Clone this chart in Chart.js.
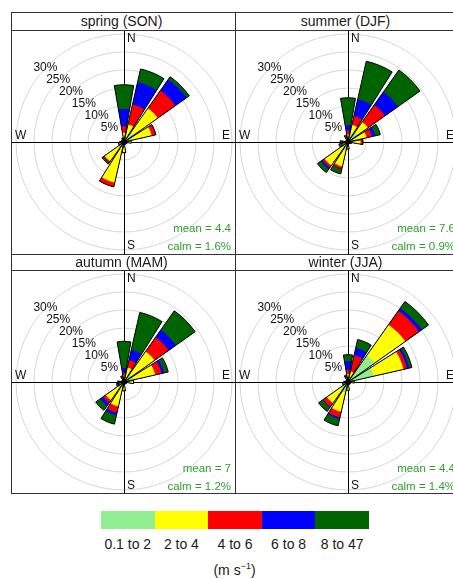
<!DOCTYPE html>
<html lang="en">
  <head>
    <meta charset="UTF-8" />
    <meta name="viewport" content="width=device-width, initial-scale=1.0" />
    <script src="https://cdn.jsdelivr.net/npm/chart.js@4.4.1/dist/chart.umd.min.js"></script>
    <style>
      body {
        margin: 0;
        width: 453px;
        height: 579px;
        overflow: hidden;
        position: relative;
        background: #fff;
        color: #1a1a1a;
        font-family: "Liberation Sans", Arial, sans-serif;
      }
      canvas { position: absolute; }
      .line { position: absolute; background: #333; }
      .hdr {
        position: absolute;
        width: 219px;
        height: 17px;
        line-height: 17px;
        font-size: 14px;
        text-align: center;
      }
      #bar { position: absolute; left: 101px; top: 511px; width: 268px; height: 18px; display: flex; }
      #bar div { flex: 1; }
      #keys { position: absolute; left: 101px; top: 536px; width: 268px; display: flex; font-size: 14px; }
      #keys div { flex: 1; text-align: center; }
      #unit { position: absolute; left: 0; width: 469px; top: 561px; text-align: center; font-size: 14px; }
      #unit sup { font-size: 9px; }
    </style>
  </head>
  <body>
    <canvas id="c0" width="224" height="224" style="left:12px;top:30px"></canvas>
    <canvas id="c1" width="224" height="224" style="left:236px;top:30px"></canvas>
    <canvas id="c2" width="224" height="224" style="left:12px;top:270px"></canvas>
    <canvas id="c3" width="224" height="224" style="left:236px;top:270px"></canvas>

    <div class="hdr" style="left:12px;top:13px">spring (SON)</div>
    <div class="hdr" style="left:236px;top:13px">summer (DJF)</div>
    <div class="hdr" style="left:12px;top:254px">autumn (MAM)</div>
    <div class="hdr" style="left:236px;top:254px">winter (JJA)</div>

    <!-- panel frame -->
    <div class="line" style="left:11px;top:12px;width:449px;height:1px"></div>
    <div class="line" style="left:11px;top:30px;width:449px;height:1px"></div>
    <div class="line" style="left:11px;top:254px;width:449px;height:1px"></div>
    <div class="line" style="left:11px;top:270px;width:449px;height:1px"></div>
    <div class="line" style="left:11px;top:493px;width:449px;height:1px"></div>
    <div class="line" style="left:11px;top:12px;width:1px;height:482px"></div>
    <div class="line" style="left:235px;top:12px;width:1px;height:482px"></div>
    <div class="line" style="left:459px;top:12px;width:1px;height:482px"></div>

    <div id="bar"></div>
    <div id="keys"></div>
    <div id="unit">(m s<sup>&minus;1</sup>)</div>

    <script>
      // wind directions, 22.5 degree sectors
      const directions = ["N", "NNE", "NE", "ENE", "E", "ESE", "SE", "SSE",
        "S", "SSW", "SW", "WSW", "W", "WNW", "NW", "NNW"];
      const speedBins = ["0.1 to 2", "2 to 4", "4 to 6", "6 to 8", "8 to 47"];
      const binColors = ["#90EE90", "#FFFF00", "#FF0000", "#0000FF", "#006400"];
      const tickValues = [5, 10, 15, 20, 25, 30];

      const seasonTitles = ["spring (SON)", "summer (DJF)", "autumn (MAM)", "winter (JJA)"];
      const meanSpeeds = ["4.4", "7.6", "7", "4.4"];
      const calmPercents = ["1.6", "0.9", "1.2", "1.4"];

      // % of time per direction, per speed bin
      const spring0to2 = [0.6, 1.2, 3.0, 2.5, 1.2, 0.6, 0.4, 0.5, 1.2, 1.5, 2.0, 1.2, 0.9, 0.6, 0.6, 0.5];
      const spring2to4 = [2.0, 3.8, 8.5, 5.4, 0.8, 0.3, 0.2, 0.3, 1.6, 10.1, 4.6, 0.4, 0.3, 0.2, 0.2, 0.5];
      const spring4to6 = [1.8, 5.7, 6.0, 1.1, 0, 0, 0, 0, 0.2, 1.2, 0.4, 0, 0, 0, 0, 0.2];
      const spring6to8 = [4.8, 6.3, 3.8, 0.1, 0, 0, 0, 0, 0, 0, 0.1, 0, 0, 0, 0, 0];
      const spring8to47 = [6.7, 3.8, 0.9, 0, 0, 0, 0, 0, 0, 0, 0.4, 0, 0, 0, 0, 0];

      const summer0to2 = [0.8, 2.5, 3.2, 2.0, 1.5, 0.7, 0.5, 0.5, 1.0, 2.5, 2.0, 1.0, 0.8, 0.5, 0.5, 0.6];
      const summer2to4 = [1.3, 2.4, 3.6, 3.3, 2.0, 0.3, 0.1, 0.1, 0.8, 4.5, 6.0, 0.6, 0.4, 0.2, 0.2, 0.4];
      const summer4to6 = [1.1, 2.5, 5.8, 1.5, 0.5, 0, 0, 0, 0.1, 0.6, 0.6, 0.2, 0.2, 0, 0, 0.3];
      const summer6to8 = [1.5, 4.8, 4.4, 1.0, 0, 0, 0, 0, 0, 0.2, 0.6, 0.2, 0.2, 0, 0, 0.2];
      const summer8to47 = [7.6, 10.8, 7.5, 1.4, 0.2, 0, 0, 0, 0.1, 1.3, 1.2, 0.6, 0.6, 0, 0, 0.5];

      const autumn0to2 = [0.8, 1.2, 2.5, 2.7, 1.5, 0.6, 0.5, 0.5, 1.0, 1.5, 2.0, 1.0, 0.8, 0.5, 0.5, 0.6];
      const autumn2to4 = [1.0, 2.9, 7.9, 6.2, 1.0, 0.2, 0.1, 0.2, 1.2, 5.5, 4.2, 0.4, 0.3, 0.2, 0.2, 0.4];
      const autumn4to6 = [0.8, 2.1, 4.8, 1.8, 0.2, 0, 0, 0, 0.2, 1.7, 0.9, 0.2, 0.2, 0, 0, 0.2];
      const autumn6to8 = [1.3, 3.0, 2.5, 0.7, 0, 0, 0, 0, 0, 0.8, 1.0, 0.2, 0.1, 0, 0, 0.2];
      const autumn8to47 = [7.4, 10.6, 6.5, 1.2, 0, 0, 0, 0, 0.1, 2.5, 1.5, 0.4, 0.4, 0, 0, 0.4];

      const winter0to2 = [1.0, 1.5, 9.0, 7.3, 1.5, 0.7, 0.6, 0.7, 1.5, 3.0, 2.5, 1.0, 0.8, 0.6, 0.6, 0.7];
      const winter2to4 = [1.2, 1.5, 10.5, 8.5, 0.3, 0.1, 0.1, 0.1, 0.7, 5.5, 4.7, 0.4, 0.2, 0.1, 0.1, 0.4];
      const winter4to6 = [1.2, 4.6, 4.7, 1.0, 0, 0, 0, 0, 0.1, 1.6, 1.2, 0.1, 0.1, 0, 0, 0.3];
      const winter6to8 = [2.4, 2.1, 0.9, 0.6, 0, 0, 0, 0, 0, 0.4, 0.2, 0, 0, 0, 0, 0.2];
      const winter8to47 = [1.8, 2.4, 2.3, 0.8, 0, 0, 0, 0, 0, 2.0, 1.4, 0.1, 0.1, 0, 0, 0.4];

      const seasons = [
        [spring0to2, spring2to4, spring4to6, spring6to8, spring8to47],
        [summer0to2, summer2to4, summer4to6, summer6to8, summer8to47],
        [autumn0to2, autumn2to4, autumn4to6, autumn6to8, autumn8to47],
        [winter0to2, winter2to4, winter4to6, winter6to8, winter8to47],
      ];

      // each sector = one wedge + one empty gap slot
      const wedgeDeg = 19.5;
      const gapDeg = 22.5 - wedgeDeg;
      const slotAngle = (ctx) => (ctx.dataIndex % 2 ? gapDeg : wedgeDeg);
      const labels = directions.flatMap((d) => [d, ""]);
      const withGaps = (arr) => arr.flatMap((v) => [v, 0]);

      function buildDatasets(bins) {
        const sets = [];
        let run = directions.map(() => 0);
        bins.forEach((bin, k) => {
          run = run.map((v, i) => v + bin[i]);
          sets.push({
            data: withGaps(run),
            backgroundColor: binColors[k],
            borderWidth: 0,
            angle: slotAngle,
            order: k + 1, // inner (slower) bins on top of the cumulative outer ones
          });
        });
        // black outline round each whole wedge
        sets.push({
          data: withGaps(run),
          backgroundColor: "rgba(0,0,0,0)",
          borderColor: "#000",
          borderWidth: (ctx) => (ctx.dataIndex % 2 ? 0 : 1),
          angle: slotAngle,
          order: 0,
        });
        return sets;
      }

      const roseDecor = {
        id: "roseDecor",
        beforeDatasetsDraw(chart) {
          const { ctx, width, height } = chart;
          const r = chart.scales.r;
          ctx.save();
          ctx.strokeStyle = "#000";
          ctx.lineWidth = 1;
          ctx.beginPath();
          ctx.moveTo(0, r.yCenter + 0.5);
          ctx.lineTo(width, r.yCenter + 0.5);
          ctx.moveTo(r.xCenter + 0.5, 0);
          ctx.lineTo(r.xCenter + 0.5, height);
          ctx.stroke();
          ctx.restore();
        },
        afterDraw(chart, args, opts) {
          const { ctx, width, height } = chart;
          const r = chart.scales.r;
          const xc = r.xCenter, yc = r.yCenter;
          ctx.save();
          ctx.fillStyle = "#111";
          ctx.font = '12px "Liberation Sans", Arial, sans-serif';
          ctx.textBaseline = "middle";
          ctx.textAlign = "left";
          ctx.fillText("N", xc + 3, 9);
          ctx.fillText("S", xc + 3, height - 8);
          ctx.fillText("W", 3, yc - 6.5);
          ctx.textAlign = "right";
          ctx.fillText("E", width - 6, yc - 6.5);

          // percentage labels up the NW diagonal
          ctx.textAlign = "center";
          const a = (46.5 * Math.PI) / 180;
          tickValues.forEach((v) => {
            const d = r.getDistanceFromCenterForValue(v) * 0.98 + 2.5;
            ctx.fillText(v + "%", xc - d * Math.sin(a), yc - d * Math.cos(a));
          });

          ctx.fillStyle = "#2f9e2a";
          ctx.font = '11.5px "Liberation Sans", Arial, sans-serif';
          ctx.textAlign = "right";
          ctx.fillText("mean = " + opts.mean, 219, 199);
          ctx.fillText("calm = " + opts.calm + "%", 219, 217);
          ctx.restore();
        },
      };

      seasons.forEach((bins, s) => {
        new Chart(document.getElementById("c" + s), {
          type: "polarArea",
          data: { labels: labels, datasets: buildDatasets(bins) },
          options: {
            responsive: false,
            animation: false,
            layout: { padding: 4 },
            plugins: {
              legend: { display: false },
              tooltip: { enabled: false },
              roseDecor: { mean: meanSpeeds[s], calm: calmPercents[s] },
            },
            scales: {
              r: {
                min: 0,
                max: 30,
                startAngle: -wedgeDeg / 2,
                ticks: { display: false, stepSize: 5 },
                grid: { circular: true, color: "#d6d6d6", lineWidth: 1 },
                angleLines: { display: false },
                pointLabels: { display: false },
              },
            },
          },
          plugins: [roseDecor],
        });
      });

      // speed legend
      const bar = document.getElementById("bar");
      const keys = document.getElementById("keys");
      speedBins.forEach((name, k) => {
        const sw = document.createElement("div");
        sw.style.background = binColors[k];
        bar.appendChild(sw);
        const key = document.createElement("div");
        key.textContent = name;
        keys.appendChild(key);
      });
    </script>
  </body>
</html>
